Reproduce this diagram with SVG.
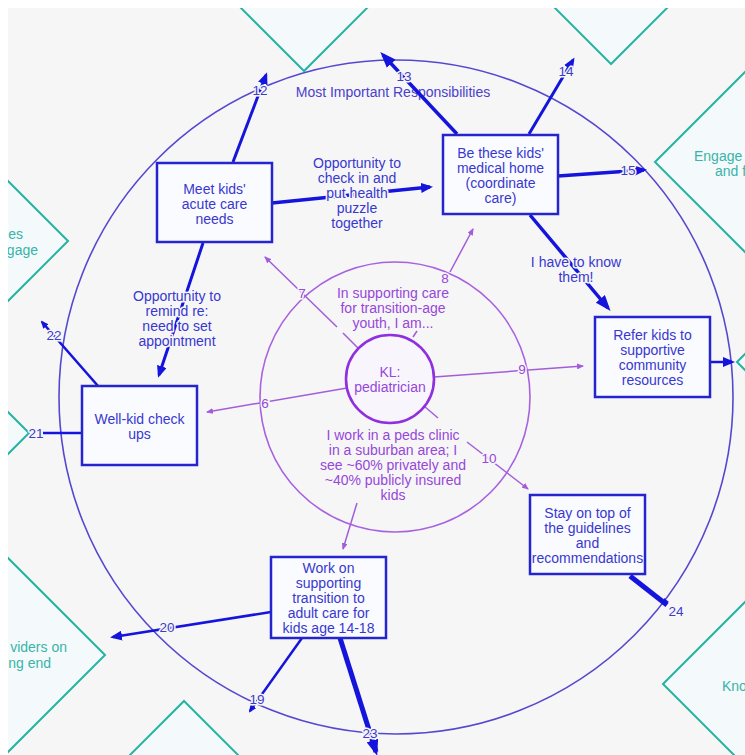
<svg xmlns="http://www.w3.org/2000/svg" width="745" height="755" viewBox="0 0 745 755">
<defs>
<style>
.t{font-family:"Liberation Sans",Arial,sans-serif;font-size:14px;fill:#3838cf;text-anchor:middle}
.n{font-family:"Liberation Sans",Arial,sans-serif;font-size:13.5px;fill:#3c3cc8;text-anchor:middle;paint-order:stroke;stroke:#f6f6f7;stroke-width:3px;stroke-linejoin:round}
.h{paint-order:stroke;stroke:#f6f6f7;stroke-width:3px;stroke-linejoin:round}
.p{font-family:"Liberation Sans",Arial,sans-serif;font-size:14px;fill:#9747da;text-anchor:middle}
.pn{font-family:"Liberation Sans",Arial,sans-serif;font-size:13.5px;fill:#9747da;text-anchor:middle;paint-order:stroke;stroke:#f6f6f7;stroke-width:3px}
.box{fill:#fafbff;stroke:#2525d0;stroke-width:2.5}
.dia{fill:#f4fafc;stroke:#27b3a2;stroke-width:2}
.dt{font-family:"Liberation Sans",Arial,sans-serif;font-size:14px;fill:#38b4a8}
.c{stroke:#1414dc;fill:none}
.sp{stroke:#a35ddb;stroke-width:1.5;fill:none}
</style>
<marker id="ab" viewBox="0 0 12 10" refX="9" refY="5" markerWidth="12" markerHeight="10" markerUnits="userSpaceOnUse" orient="auto"><path d="M0,0 L12,5 L0,10 z" fill="#1414dc"/></marker>
<marker id="abL" viewBox="0 0 16 12" refX="12" refY="6" markerWidth="16" markerHeight="12" markerUnits="userSpaceOnUse" orient="auto"><path d="M0,0 L16,6 L0,12 z" fill="#1414dc"/></marker>
<marker id="abS" viewBox="0 0 8 7" refX="6" refY="3.5" markerWidth="8" markerHeight="7" markerUnits="userSpaceOnUse" orient="auto"><path d="M0,0 L8,3.5 L0,7 z" fill="#1414dc"/></marker>
<marker id="ap" viewBox="0 0 7 6" refX="6" refY="3" markerWidth="7" markerHeight="6" markerUnits="userSpaceOnUse" orient="auto"><path d="M0,0 L7,3 L0,6 z" fill="#a35ddb"/></marker>
<clipPath id="clip"><rect x="8" y="8" width="737" height="747"/></clipPath>
</defs>
<rect x="0" y="0" width="745" height="755" fill="#ffffff"/>
<rect x="8" y="8" width="737" height="747" fill="#f6f6f7"/>

<g id="diamonds" clip-path="url(#clip)">
<polygon class="dia" points="304,71 194,-39 304,-149 414,-39"/>
<polygon class="dia" points="611,64 501,-46 611,-156 721,-46"/>
<polygon class="dia" points="655,162 765,52 875,162 765,272"/>
<polygon class="dia" points="737,362 797,302 857,362 797,422"/>
<polygon class="dia" points="663,684 773,574 883,684 773,794"/>
<polygon class="dia" points="68,241 -42,131 -152,241 -42,351"/>
<polygon class="dia" points="29,433 -11,393 -51,433 -11,473"/>
<polygon class="dia" points="105,655 -5,545 -115,655 -5,765"/>
<polygon class="dia" points="184,701 294,811 184,921 74,811"/>
<text class="dt" x="694" y="161">Engage</text>
<text class="dt" x="715" y="176">and f</text>
<text class="dt" x="722" y="691">Kno</text>
<text class="dt" x="23" y="239" text-anchor="end">es</text>
<text class="dt" x="38" y="255" text-anchor="end">gage</text>
<text class="dt" x="67" y="652" text-anchor="end">viders on</text>
<text class="dt" x="51" y="668" text-anchor="end">ng end</text>
</g>

<g id="outer-circle">
<circle cx="396" cy="397" r="337" fill="none" stroke="#5548cf" stroke-width="1.6"/>
<text class="t h" x="393" y="97" style="fill:#4a40cc">Most Important Responsibilities</text>
</g>

<g id="inner-circle">
<circle cx="395" cy="397" r="135" fill="none" stroke="#a861e0" stroke-width="1.6"/>
</g>

<g id="spokes">
<line class="sp" x1="358" y1="348" x2="343" y2="333"/>
<line class="sp" x1="337" y1="327" x2="265" y2="257" marker-end="url(#ap)"/>
<line class="sp" x1="413" y1="337" x2="417" y2="331"/>
<line class="sp" x1="450" y1="272" x2="473" y2="229" marker-end="url(#ap)"/>
<line class="sp" x1="434" y1="377" x2="583" y2="366" marker-end="url(#ap)"/>
<line class="sp" x1="347" y1="388" x2="207" y2="412" marker-end="url(#ap)"/>
<line class="sp" x1="424" y1="406" x2="438" y2="418"/>
<line class="sp" x1="467" y1="442" x2="528" y2="489" marker-end="url(#ap)"/>
<line class="sp" x1="357" y1="503" x2="343" y2="549" marker-end="url(#ap)"/>
<text class="pn" x="302" y="298">7</text>
<text class="pn" x="445" y="283">8</text>
<text class="pn" x="522" y="374">9</text>
<text class="pn" x="265" y="408">6</text>
<text class="pn" x="489" y="463">10</text>
</g>

<g id="connectors">
<line class="c" stroke-width="3.5" x1="272" y1="203" x2="430" y2="187" marker-end="url(#ab)"/>
<line class="c" stroke-width="3" x1="233" y1="162" x2="266" y2="75" marker-end="url(#ab)"/>
<line class="c" stroke-width="3" x1="203" y1="243" x2="159" y2="375" marker-end="url(#ab)"/>
<line class="c" stroke-width="2.5" x1="98" y1="386" x2="42" y2="322" marker-end="url(#abS)"/>
<line class="c" stroke-width="2.5" x1="82" y1="433" x2="43" y2="433"/>
<line class="c" stroke-width="3.5" x1="457" y1="134" x2="383" y2="55" marker-end="url(#abL)"/>
<line class="c" stroke-width="3" x1="529" y1="134" x2="573" y2="60" marker-end="url(#ab)"/>
<line class="c" stroke-width="3.5" x1="558" y1="176" x2="644" y2="170" marker-end="url(#ab)"/>
<line class="c" stroke-width="3.5" x1="530" y1="215" x2="608" y2="308" marker-end="url(#abL)"/>
<line class="c" stroke-width="2.5" x1="710" y1="362" x2="732" y2="362" marker-end="url(#ab)"/>
<line class="c" stroke-width="5" x1="630" y1="576" x2="667" y2="605"/>
<path d="M664,598 l5,4 l-6,2 z" fill="#1414dc"/>
<line class="c" stroke-width="2.5" x1="271" y1="612" x2="113" y2="637" marker-end="url(#ab)"/>
<line class="c" stroke-width="2.5" x1="302" y1="638" x2="250" y2="711" marker-end="url(#abS)"/>
<line class="c" stroke-width="5" x1="340" y1="638" x2="376" y2="752" marker-end="url(#abL)"/>
<text class="n" x="260" y="95">12</text>
<text class="n" x="404" y="81">13</text>
<text class="n" x="566" y="76">14</text>
<text class="n" x="628" y="175">15</text>
<text class="n" x="54" y="340">22</text>
<text class="n" x="36" y="438">21</text>
<text class="n" x="167" y="632">20</text>
<text class="n" x="257" y="704">19</text>
<text class="n" x="370" y="738">23</text>
<text class="n" x="676" y="616">24</text>
<text class="t h" x="357" y="168">Opportunity to</text>
<text class="t h" x="357" y="183">check in and</text>
<text class="t h" x="357" y="198">put health</text>
<text class="t h" x="357" y="213">puzzle</text>
<text class="t h" x="357" y="228">together</text>
<text class="t h" x="177" y="301">Opportunity to</text>
<text class="t h" x="177" y="316">remind re:</text>
<text class="t h" x="177" y="331">need to set</text>
<text class="t h" x="177" y="346">appointment</text>
<text class="t h" x="576" y="267">I have to know</text>
<text class="t h" x="576" y="282">them!</text>
</g>

<g id="center">
<circle cx="390" cy="379" r="44" fill="#f8f6fc" stroke="#8f2fe0" stroke-width="2.6"/>
<text class="p" x="390" y="377">KL:</text>
<text class="p" x="390" y="392">pediatrician</text>
<text class="p" x="393" y="298">In supporting care</text>
<text class="p" x="393" y="313">for transition-age</text>
<text class="p" x="393" y="328">youth, I am...</text>
<text class="p" x="393" y="440">I work in a peds clinic</text>
<text class="p" x="393" y="455">in a suburban area; I</text>
<text class="p" x="393" y="470">see ~60% privately and</text>
<text class="p" x="393" y="485">~40% publicly insured</text>
<text class="p" x="393" y="500">kids</text>
</g>

<g id="meet-acute">
<rect class="box" x="157" y="163" width="115" height="79"/>
<text class="t" x="214.5" y="194">Meet kids'</text>
<text class="t" x="214.5" y="209">acute care</text>
<text class="t" x="214.5" y="224">needs</text>
</g>

<g id="medical-home">
<rect class="box" x="443" y="135" width="115" height="79"/>
<text class="t" x="500.5" y="158">Be these kids'</text>
<text class="t" x="500.5" y="173">medical home</text>
<text class="t" x="500.5" y="188">(coordinate</text>
<text class="t" x="500.5" y="203">care)</text>
</g>

<g id="refer">
<rect class="box" x="595" y="317" width="115" height="80"/>
<text class="t" x="652.5" y="340">Refer kids to</text>
<text class="t" x="652.5" y="355">supportive</text>
<text class="t" x="652.5" y="370">community</text>
<text class="t" x="652.5" y="385">resources</text>
</g>

<g id="well-kid">
<rect class="box" x="82" y="386" width="115" height="79"/>
<text class="t" x="139.5" y="424">Well-kid check</text>
<text class="t" x="139.5" y="439">ups</text>
</g>

<g id="guidelines">
<rect class="box" x="530" y="495" width="115" height="79"/>
<text class="t" x="587.5" y="518">Stay on top of</text>
<text class="t" x="587.5" y="533">the guidelines</text>
<text class="t" x="587.5" y="548">and</text>
<text class="t" x="587.5" y="563">recommendations</text>
</g>

<g id="transition">
<rect class="box" x="271" y="557" width="115" height="81"/>
<text class="t" x="328.5" y="573">Work on</text>
<text class="t" x="328.5" y="588">supporting</text>
<text class="t" x="328.5" y="603">transition to</text>
<text class="t" x="328.5" y="618">adult care for</text>
<text class="t" x="328.5" y="633">kids age 14-18</text>
</g>
</svg>
